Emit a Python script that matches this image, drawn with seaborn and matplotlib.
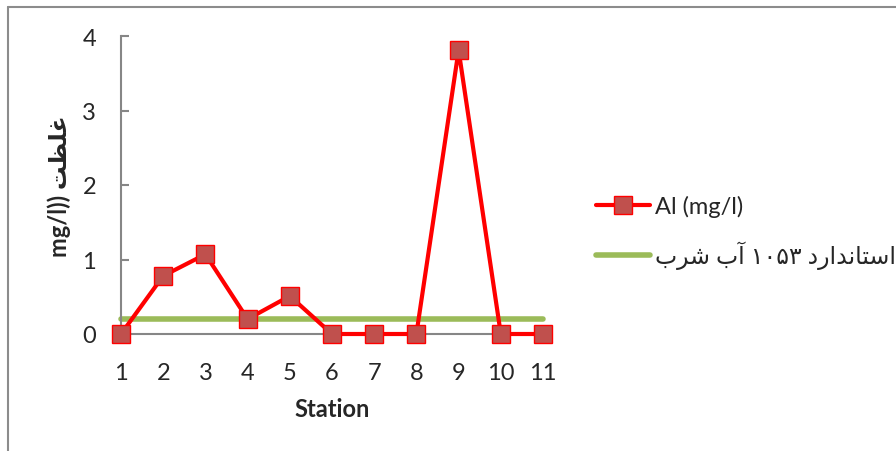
import matplotlib
matplotlib.use("Agg")
import matplotlib.pyplot as plt
import seaborn as sns
import pandas as pd

# Aluminium concentration at each sampling station
stations = [1, 2, 3, 4, 5, 6, 7, 8, 9, 10, 11]
al_mgl = [0.0, 0.78, 1.07, 0.2, 0.51, 0.0, 0.0, 0.0, 3.81, 0.0, 0.0]
# Drinking-water standard 1053 limit for Al
standard_limit = [0.2, 0.2, 0.2, 0.2, 0.2, 0.2, 0.2, 0.2, 0.2, 0.2, 0.2]
y_ticks = [0, 1, 2, 3, 4]

# Persian labels written with presentation forms in display order
label_al = "Al (mg/l)"
label_std = ("\uFE8F\uFEAE\uFEB7 \uFE8F\uFE81 \u06F1\u06F0\u06F5\u06F3 "
             "\uFEA9\uFEAD\uFE8D\uFEAA\uFEE7\uFE8E\uFE98\uFEB3\uFE8D")
y_label = "mg/l)) \uFE96\uFEC8\uFEE0\uFECF"
x_label = "Station"

df = pd.DataFrame({"station": stations, "al": al_mgl, "std": standard_limit})

sns.set_theme(style="white")
plt.rcParams["font.family"] = ["Lato", "DejaVu Sans"]

W, H = 896, 452
fig = plt.figure(figsize=(W / 100, H / 100), dpi=100)
fig.patch.set_facecolor("white")

# chart-area border (continues past the right and bottom edges)
border = "#8c8c8c"
fig.add_artist(plt.Line2D([8 / W, 1.0], [1 - 8 / H, 1 - 8 / H], color=border, lw=1.5,
                          transform=fig.transFigure))
fig.add_artist(plt.Line2D([8 / W, 8 / W], [0.0, 1 - 8 / H], color=border, lw=1.5,
                          transform=fig.transFigure))

x0, x1 = 121, 543
y0, y1 = 335, 37
ax = fig.add_axes([x0 / W, (H - y0) / H, (x1 - x0) / W, (y0 - y1) / H])
ax.set_facecolor("none")

sns.lineplot(data=df, x="station", y="al", ax=ax, color="#FF0000", lw=3,
             marker="s", markersize=13.5, markerfacecolor="#C0504D",
             markeredgecolor="#FF0000", markeredgewidth=1.0, clip_on=False,
             label=label_al, zorder=3)
sns.lineplot(data=df, x="station", y="std", ax=ax, color="#9BBB59", lw=4,
             solid_capstyle="round", clip_on=False, label=label_std, zorder=2)

ax.set_xlim(1, 11)
ax.set_ylim(0, 4)
ax.set_xticks(stations)
ax.set_yticks(y_ticks)
fs = 17
ax.set_xticklabels([str(s) for s in stations], fontsize=fs)
ax.set_yticklabels([str(v) for v in y_ticks], fontsize=fs)
for s in ["top", "right"]:
    ax.spines[s].set_visible(False)
for s in ["left", "bottom"]:
    ax.spines[s].set_color("#868686")
    ax.spines[s].set_linewidth(1.5)
ax.tick_params(axis="y", direction="in", length=6, width=1.5, color="#868686",
               pad=18, left=True)
ax.tick_params(axis="x", length=0, pad=20, bottom=False)
ax.grid(False)

ax.set_xlabel(x_label, fontsize=fs, fontweight="bold", labelpad=10)
ax.set_ylabel(y_label, fontsize=fs, fontweight="bold", labelpad=8)

leg = ax.legend(loc="center left", frameon=False, fontsize=fs,
                handlelength=2.3, handletextpad=0.2, labelspacing=1.0,
                borderaxespad=0, borderpad=0)
leg.set_bbox_to_anchor((596 / W, (H - 233) / H), transform=fig.transFigure)

fig.savefig("out.png", dpi=100, facecolor="white")
